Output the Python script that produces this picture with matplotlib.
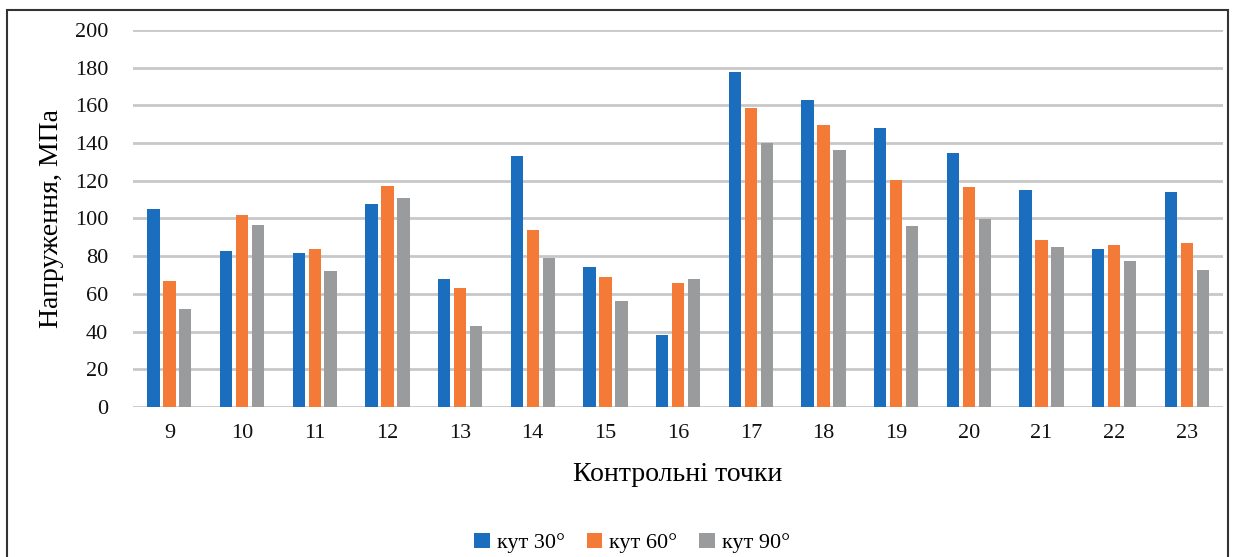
import numpy as np
import matplotlib
matplotlib.use('Agg')
import matplotlib.pyplot as plt
from matplotlib.patches import Patch, Rectangle

# data
points = ['9', '10', '11', '12', '13', '14', '15', '16', '17', '18', '19', '20', '21', '22', '23']
angle_30 = [105.2, 82.9, 81.5, 107.5, 68.0, 133.0, 74.1, 38.4, 177.9, 162.7, 147.8, 134.9, 115.3, 83.7, 114.1]
angle_60 = [67.0, 101.7, 83.8, 117.4, 63.3, 93.7, 69.1, 65.6, 158.6, 149.4, 120.3, 116.7, 88.6, 85.8, 86.8]
angle_90 = [52.0, 96.4, 72.3, 111.0, 43.1, 78.9, 56.2, 68.0, 139.9, 136.2, 95.9, 99.7, 84.9, 77.6, 72.7]
labels = ['кут 30°', 'кут 60°', 'кут 90°']
colors = ['#1B6EBE', '#F47B37', '#9A9B9C']

plt.rcParams['font.family'] = ['Liberation Serif', 'DejaVu Serif']

fig = plt.figure(figsize=(12.36, 5.57), dpi=100)
ax = fig.add_axes([0.1076, 0.2693, 0.882, 0.677])

x = np.arange(len(points))
step = 0.22
w = 0.17
for i, (vals, c) in enumerate(zip([angle_30, angle_60, angle_90], colors)):
    ax.bar(x + (i - 1) * step, vals, width=w, color=c, zorder=3)

ax.set_xlim(-0.5, len(points) - 0.5)
ax.set_ylim(0, 200)
ax.set_yticks(np.arange(0, 201, 20))
ax.set_xticks(x)
ax.set_xticklabels(points)
ax.tick_params(axis='both', length=0, labelsize=16, colors='#111111')
ax.tick_params(axis='x', pad=12)
ax.tick_params(axis='y', pad=18)
ax.grid(axis='y', color='#C8C8C8', linewidth=2, zorder=0)
for s in ax.spines.values():
    s.set_visible(False)

ax.set_ylabel('Напруження, МПа', fontsize=20, labelpad=8)
ax.set_xlabel('Контрольні точки', fontsize=20, labelpad=14)

handles = [Patch(facecolor=c, label=l) for c, l in zip(colors, labels)]
fig.legend(handles=handles, loc='center', bbox_to_anchor=(632 / 1236, 1 - 543 / 557),
           ncol=3, frameon=False, fontsize=16, handlelength=0.7, handleheight=0.7,
           handletextpad=0.3, columnspacing=1.0)

# outer frame
fig.patches.append(Rectangle((7 / 1236, -0.05), 1221 / 1236, 1.05 - 10 / 557,
                             transform=fig.transFigure, fill=False,
                             edgecolor='#333333', linewidth=1.5))

fig.savefig('out.png', dpi=100)
